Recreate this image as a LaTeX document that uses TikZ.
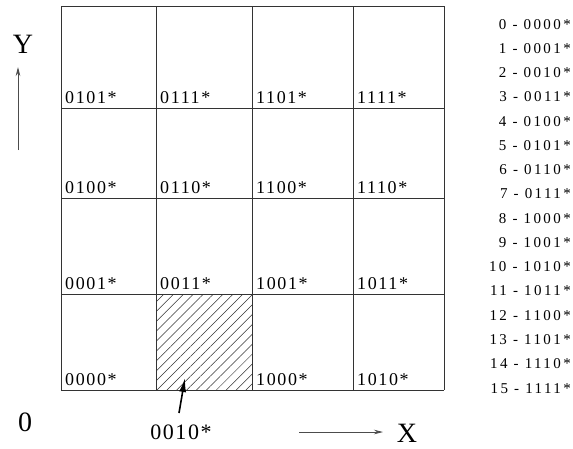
\documentclass[tikz,border=0pt]{standalone}
\usepackage{fontspec}
\setmainfont{Liberation Serif}
\newfontfamily\cellfont[LetterSpace=9]{Liberation Serif}
\newfontfamily\ptrfont[LetterSpace=7]{Liberation Serif}
\newfontfamily\listfont[LetterSpace=16]{Liberation Serif}
\usetikzlibrary{arrows.meta,patterns.meta}
\begin{document}
\begin{tikzpicture}[x=1pt,y=-1pt,
  gridline/.style={draw=black!80,line width=0.8pt},
  celllabel/.style={anchor=base west,inner sep=0pt,font=\cellfont\fontsize{18}{18}\selectfont},
  listlabel/.style={anchor=base east,inner sep=0pt,font=\listfont\fontsize{15}{15}\selectfont},
  axislabel/.style={inner sep=0pt,font=\fontsize{28}{28}\selectfont},
  axisarrow/.style={draw=black!70,line width=0.8pt,-{Stealth[length=9pt,width=4.5pt]}},
  hatch/.style={pattern={Lines[angle=45,distance=7pt,line width=0.5pt]},pattern color=black!80}]
\useasboundingbox (0,0) rectangle (573,448);
% hatched cell
\fill[hatch] (156,294) rectangle (252,390);
% grid
\foreach \x in {61,156,252,353,444} \draw[gridline] (\x,6) -- (\x,390);
\foreach \y in {6,108,198,294,390} \draw[gridline] (61,\y) -- (444,\y);
% cell labels
\foreach \x/\y/\t [count=\n] in {
  61/103/0101,156/103/0111,252/103/1101,353/103/1111,
  61/193/0100,156/193/0110,252/193/1100,353/193/1110,
  61/289/0001,156/289/0011,252/289/1001,353/289/1011,
  61/385/0000,252/385/1000,353/385/1010}
  \node[celllabel] (c\n) at (\x+4,\y) {\t*};
% pointer label
\node[inner sep=0pt,font=\ptrfont\fontsize{22}{22}\selectfont] (ptr) at (181,432) {0010*};
\coordinate (ptrtail) at (179,413);
\coordinate (ptrtip) at (185,378);
\draw[line width=1.6pt,-{Latex[length=14pt,width=7pt]}] (ptrtail) -- (ptrtip);
% axes
\node[axislabel] (ylab) at (23,44) {Y};
\coordinate (ya) at (18,150);
\coordinate (yb) at (18,67);
\draw[axisarrow] (ya) -- (yb);
\node[axislabel] (zero) at (25,422) {0};
\coordinate (xa) at (299,432);
\coordinate (xb) at (383,432);
\draw[axisarrow] (xa) -- (xb);
\node[axislabel] (xlab) at (407,433) {X};
% list
\foreach \b [count=\n from 0] in {0000,0001,0010,0011,0100,0101,0110,0111,1000,1001,1010,1011,1100,1101,1110,1111}
  \node[listlabel] (l\n) at (571,29+24.27*\n) {\n\ - \b*};
\end{tikzpicture}
\end{document}
